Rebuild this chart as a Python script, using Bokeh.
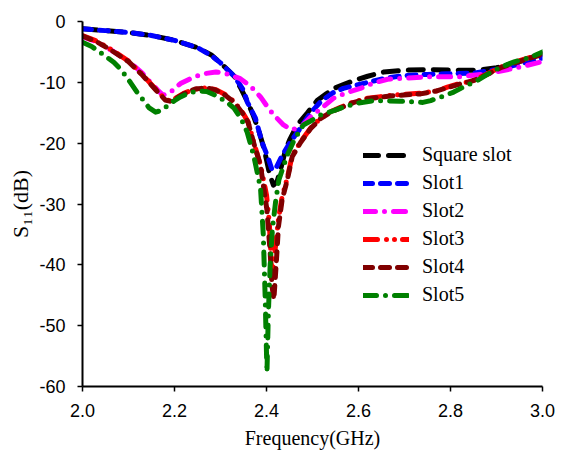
from bokeh.plotting import figure
from bokeh.models import Range1d, FixedTicker, Legend, LegendItem
from bokeh.embed import file_html
from bokeh.resources import INLINE

# Return loss S11 (dB) against frequency (GHz) for each slot geometry
f_square = [2.00, 2.05, 2.10, 2.15, 2.20, 2.25, 2.28, 2.30, 2.33, 2.343, 2.36, 2.37, 2.383,
            2.395, 2.405, 2.41, 2.415, 2.423, 2.43, 2.44, 2.45, 2.467, 2.489, 2.51, 2.53,
            2.546, 2.57, 2.59, 2.62, 2.655, 2.70, 2.75, 2.80, 2.858, 2.90, 2.95, 3.00]
s_square = [-1.2, -1.5, -1.8, -2.3, -3.1, -4.3, -5.5, -6.8, -9.0, -10.8, -13.4, -15.2, -17.9,
            -21.0, -24.5, -25.8, -26.9, -26.3, -24.5, -21.5, -19.5, -17.0, -15.0, -13.0, -11.9,
            -11.0, -10.3, -9.7, -9.0, -8.3, -8.0, -7.9, -8.0, -8.0, -7.6, -6.6, -5.3]

f_slot1 = [2.00, 2.05, 2.10, 2.15, 2.20, 2.25, 2.28, 2.30, 2.33, 2.35, 2.358, 2.376, 2.39,
           2.404, 2.412, 2.42, 2.434, 2.452, 2.474, 2.496, 2.52, 2.545, 2.567, 2.62, 2.66,
           2.70, 2.75, 2.79, 2.85, 2.90, 2.95, 3.00]
s_slot1 = [-1.2, -1.5, -1.8, -2.3, -3.1, -4.3, -5.6, -6.8, -9.0, -11.3, -13.2, -15.9, -19.8,
           -22.5, -24.4, -24.2, -22.0, -19.8, -17.5, -15.0, -13.0, -11.7, -11.0, -10.0, -9.3,
           -8.9, -8.7, -8.6, -8.5, -7.9, -7.0, -6.0]

f_slot2 = [2.00, 2.03, 2.06, 2.10, 2.13, 2.15, 2.165, 2.175, 2.19, 2.213, 2.24, 2.263, 2.29,
           2.31, 2.343, 2.365, 2.387, 2.40, 2.415, 2.437, 2.455, 2.474, 2.496, 2.517, 2.546,
           2.575, 2.604, 2.633, 2.663, 2.706, 2.75, 2.815, 2.88, 2.95, 3.00]
s_slot2 = [-2.5, -3.3, -4.6, -6.5, -8.5, -10.2, -11.4, -12.1, -11.7, -10.2, -9.2, -8.6, -8.3,
           -8.5, -9.4, -10.6, -12.4, -13.8, -15.3, -17.0, -17.8, -17.4, -15.7, -14.4, -12.6,
           -11.7, -11.0, -10.1, -9.5, -9.3, -9.1, -9.1, -8.6, -7.5, -6.6]

f_slot3 = [2.00, 2.03, 2.06, 2.10, 2.13, 2.16, 2.18, 2.19, 2.20, 2.22, 2.245, 2.27, 2.29,
           2.31, 2.33, 2.35, 2.36, 2.372, 2.387, 2.40, 2.406, 2.412, 2.418, 2.426, 2.434,
           2.445, 2.456, 2.474, 2.496, 2.517, 2.54, 2.561, 2.59, 2.62, 2.676, 2.735, 2.77,
           2.793, 2.82, 2.85, 2.88, 2.909, 2.952, 3.00]
s_slot3 = [-2.3, -3.2, -4.5, -6.5, -8.7, -11.2, -12.8, -13.0, -12.7, -11.8, -11.1, -10.9, -11.2,
           -12.0, -13.2, -15.2, -16.5, -19.8, -23.6, -28.5, -33.0, -42.0, -38.0, -32.5, -28.8,
           -25.8, -22.0, -19.8, -17.5, -15.9, -14.8, -14.1, -13.2, -12.6, -12.1, -11.8, -11.4,
           -10.8, -10.2, -9.7, -8.6, -7.5, -6.4, -5.3]

f_slot4 = [2.00, 2.03, 2.06, 2.10, 2.13, 2.16, 2.18, 2.19, 2.20, 2.22, 2.245, 2.27, 2.29,
           2.31, 2.33, 2.35, 2.36, 2.372, 2.387, 2.401, 2.408, 2.412, 2.416, 2.421, 2.426,
           2.434, 2.445, 2.456, 2.474, 2.496, 2.517, 2.54, 2.561, 2.59, 2.62, 2.676, 2.735,
           2.77, 2.793, 2.82, 2.85, 2.88, 2.909, 2.952, 3.00]
s_slot4 = [-2.4, -3.3, -4.6, -6.6, -8.8, -11.3, -12.9, -13.1, -12.8, -11.9, -11.1, -10.9, -11.3,
           -12.1, -13.3, -15.3, -16.6, -19.9, -23.7, -31.0, -38.0, -43.5, -45.7, -40.0, -33.7,
           -29.3, -26.1, -22.2, -19.9, -17.6, -16.0, -14.9, -14.2, -13.3, -12.7, -12.2, -11.9,
           -11.4, -10.9, -10.3, -9.7, -8.7, -7.6, -6.5, -5.4]

f_slot5 = [2.00, 2.02, 2.039, 2.068, 2.085, 2.104, 2.12, 2.133, 2.145, 2.159, 2.172, 2.185,
           2.20, 2.213, 2.23, 2.25, 2.27, 2.285, 2.30, 2.315, 2.33, 2.345, 2.358, 2.372, 2.387,
           2.393, 2.397, 2.401, 2.404, 2.408, 2.413, 2.42, 2.427, 2.445, 2.46, 2.48, 2.50,
           2.517, 2.54, 2.567, 2.60, 2.633, 2.69, 2.74, 2.757, 2.78, 2.807, 2.83, 2.858, 2.88,
           2.909, 2.94, 2.974, 3.00]
s_slot5 = [-3.4, -4.1, -5.1, -6.7, -8.0, -10.0, -11.8, -13.0, -14.2, -14.9, -14.6, -13.8,
           -13.0, -12.4, -11.8, -11.4, -11.5, -12.0, -12.6, -13.3, -14.3, -16.0, -18.2, -22.0,
           -27.4, -35.0, -45.0, -57.7, -48.0, -40.0, -34.0, -29.5, -26.0, -22.0, -19.5, -17.0,
           -16.2, -15.4, -14.8, -14.1, -13.4, -13.0, -13.1, -13.3, -13.0, -12.4, -11.6, -10.7,
           -9.7, -8.7, -7.5, -6.6, -5.9, -5.0]

series_names = ["Square slot", "Slot1", "Slot2", "Slot3", "Slot4", "Slot5"]

x_ticks = [2.0, 2.2, 2.4, 2.6, 2.8, 3.0]
x_tick_labels = ["2.0", "2.2", "2.4", "2.6", "2.8", "3.0"]
y_ticks = [0, -10, -20, -30, -40, -50, -60]
y_tick_labels = ["0", "-10", "-20", "-30", "-40", "-50", "-60"]

p = figure(width=566, height=454, output_backend="svg", toolbar_location=None,
           x_range=Range1d(2.0, 3.0), y_range=Range1d(-60, 0),
           min_border_left=82, min_border_right=24, min_border_top=21, min_border_bottom=68)
p.outline_line_color = None
p.xgrid.visible = False
p.ygrid.visible = False
p.background_fill_color = "white"
p.border_fill_color = "white"

for ax in (p.xaxis[0], p.yaxis[0]):
    ax.axis_line_width = 2
    ax.axis_line_color = "black"
    ax.major_tick_line_width = 1.5
    ax.major_tick_line_color = "black"
    ax.major_tick_out = 5
    ax.major_tick_in = 0
    ax.minor_tick_line_color = None
    ax.major_label_text_font = "Liberation Sans"
    ax.major_label_text_font_size = "18px"
    ax.major_label_text_color = "black"
    ax.axis_label_text_font = "Liberation Serif"
    ax.axis_label_text_font_style = "normal"
    ax.axis_label_text_color = "black"

p.xaxis.ticker = FixedTicker(ticks=x_ticks)
p.xaxis.major_label_overrides = dict(zip(x_ticks, x_tick_labels))
p.yaxis.ticker = FixedTicker(ticks=y_ticks)
p.yaxis.major_label_overrides = dict(zip(y_ticks, y_tick_labels))
p.xaxis.major_label_standoff = 12
p.yaxis.major_label_standoff = 12
p.xaxis.axis_label = "Frequency(GHz)"
p.xaxis.axis_label_text_font_size = "20px"
p.xaxis.axis_label_standoff = 7
p.yaxis.axis_label = "S\u2081\u2081(dB)"
p.yaxis.axis_label_text_font_size = "22px"
p.yaxis.axis_label_standoff = 3

styles = [
    (f_square, s_square, "#000000", "15 10"),
    (f_slot1, s_slot1, "#0000FF", "9 8"),
    (f_slot2, s_slot2, "#FF00FF", "12 9 0 9"),
    (f_slot3, s_slot3, "#FF0000", "14 9 0 8 0 8"),
    (f_slot4, s_slot4, "#800000", "9 8"),
    (f_slot5, s_slot5, "#008000", "13 9 0 9"),
]

items = []
for name, (fx, sy, color, dash) in zip(series_names, styles):
    r = p.line(fx, sy, line_color=color, line_width=5, line_dash=dash,
               line_cap="round", line_join="round")
    items.append(LegendItem(label=name, renderers=[r]))

legend = Legend(items=items, location=(281, 80), orientation="vertical",
                glyph_width=46, glyph_height=20, label_height=20, spacing=5,
                label_standoff=13, padding=0, margin=0,
                label_text_font="Liberation Serif", label_text_font_size="20px",
                label_text_color="black", border_line_color=None,
                background_fill_alpha=0)
p.add_layout(legend, "center")

open("out.html", "w").write(file_html(p, INLINE))
